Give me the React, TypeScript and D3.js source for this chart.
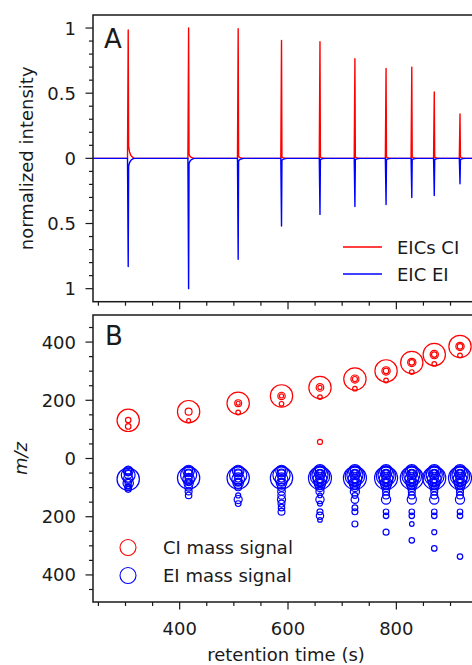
import React from "react";
import * as d3 from "d3";

// ---------- data ----------
const peakTimes = [305, 416.5, 508, 588, 659, 723.5, 781, 828.5, 870, 917.5];
const ciHeights = [0.985, 1.0, 0.995, 0.905, 0.895, 0.765, 0.69, 0.7, 0.51, 0.34];
const eiHeights = [0.83, 1.0, 0.775, 0.52, 0.43, 0.37, 0.355, 0.3, 0.285, 0.195];
const ciTails = [0.09, 0.03, 0.015, 0.01, 0.01, 0.01, 0.01, 0.01, 0.01, 0.01];
const eiTails = [0.06, 0.04, 0.02, 0.015, 0.01, 0.01, 0.01, 0.01, 0.01, 0.01];

// [m/z, relative intensity]
const ciSignals: [number, number][][] = [
  [[131, 0.97], [132, 0.24], [110, 0.24]],
  [[161, 0.97], [161, 0.3], [130, 0.17]],
  [[190, 0.97], [190, 0.3], [190, 0.17], [158, 0.2]],
  [[215, 0.97], [215, 0.32], [215, 0.18], [188, 0.2]],
  [[244, 0.97], [244, 0.33], [244, 0.18], [211, 0.2], [57, 0.22]],
  [[273, 0.97], [273, 0.35], [273, 0.22], [240, 0.2]],
  [[301, 0.97], [301, 0.36], [301, 0.24], [268, 0.2]],
  [[330, 0.97], [330, 0.36], [330, 0.24], [297, 0.2]],
  [[357, 0.97], [357, 0.36], [357, 0.24], [325, 0.2]],
  [[385, 0.97], [385, 0.36], [385, 0.24], [354, 0.2]],
];

const eiSignals: [number, number][][] = [
  [[71, 0.97], [57, 0.6], [43, 0.42], [41, 0.3], [48, 0.25], [55, 0.35], [69, 0.4], [85, 0.45], [83, 0.28], [99, 0.3], [97, 0.2], [106, 0.26]],
  [[67, 0.97], [57, 0.7], [43, 0.5], [41, 0.35], [48, 0.3], [55, 0.4], [71, 0.5], [85, 0.4], [69, 0.3], [83, 0.25], [99, 0.33], [113, 0.3], [127, 0.28]],
  [[67, 0.97], [57, 0.75], [43, 0.5], [41, 0.35], [48, 0.3], [55, 0.4], [71, 0.55], [85, 0.45], [69, 0.3], [83, 0.3], [99, 0.3], [127, 0.22], [141, 0.35], [155, 0.25]],
  [[67, 0.97], [57, 0.75], [43, 0.5], [41, 0.35], [48, 0.3], [55, 0.4], [71, 0.55], [85, 0.45], [69, 0.3], [83, 0.3], [99, 0.35], [113, 0.33], [127, 0.32], [141, 0.35], [155, 0.3], [169, 0.28], [183, 0.3]],
  [[67, 1.0], [60, 0.85], [57, 0.7], [43, 0.55], [41, 0.4], [50, 0.3], [46, 0.2], [55, 0.45], [71, 0.6], [78, 0.2], [85, 0.5], [69, 0.35], [83, 0.35], [99, 0.38], [97, 0.25], [113, 0.35], [127, 0.2], [141, 0.36], [155, 0.22], [183, 0.26], [197, 0.32], [211, 0.2]],
  [[67, 1.0], [60, 0.85], [57, 0.7], [43, 0.55], [41, 0.4], [50, 0.3], [46, 0.2], [55, 0.45], [71, 0.6], [78, 0.2], [85, 0.5], [69, 0.35], [83, 0.35], [99, 0.38], [97, 0.25], [113, 0.4], [127, 0.25], [141, 0.33], [169, 0.25], [183, 0.26], [225, 0.26]],
  [[67, 1.0], [60, 0.85], [57, 0.7], [43, 0.55], [41, 0.4], [50, 0.3], [46, 0.2], [55, 0.45], [71, 0.6], [78, 0.2], [85, 0.5], [69, 0.35], [83, 0.35], [99, 0.38], [97, 0.25], [113, 0.3], [127, 0.3], [141, 0.4], [183, 0.24], [197, 0.24], [253, 0.26]],
  [[67, 1.0], [60, 0.85], [57, 0.7], [43, 0.55], [41, 0.4], [50, 0.3], [46, 0.2], [55, 0.45], [71, 0.6], [78, 0.2], [85, 0.5], [69, 0.35], [83, 0.35], [99, 0.38], [97, 0.25], [113, 0.3], [127, 0.3], [141, 0.4], [183, 0.24], [197, 0.24], [225, 0.2], [281, 0.24]],
  [[67, 1.0], [60, 0.85], [57, 0.7], [43, 0.55], [41, 0.4], [50, 0.3], [46, 0.2], [55, 0.45], [71, 0.6], [78, 0.2], [85, 0.5], [69, 0.35], [83, 0.35], [99, 0.38], [97, 0.25], [113, 0.3], [127, 0.3], [141, 0.4], [183, 0.24], [197, 0.24], [253, 0.22], [309, 0.24]],
  [[67, 1.0], [60, 0.85], [57, 0.7], [43, 0.55], [41, 0.4], [50, 0.3], [46, 0.2], [55, 0.45], [71, 0.6], [78, 0.2], [85, 0.5], [69, 0.35], [83, 0.35], [99, 0.38], [97, 0.25], [113, 0.3], [127, 0.3], [141, 0.4], [183, 0.24], [197, 0.24], [337, 0.24]],
];

const xMajorTicks = [400, 600, 800];
const yTicksA = [-1, -0.5, 0, 0.5, 1];
const yTicksB = [-400, -200, 0, 200, 400];

// ---------- layout ----------
const W = 472;
const H = 665;
const LEFT = 93;
const A_TOP = 15;
const A_BOT = 301.7;
const B_TOP = 315;
const B_BOT = 602;
const FONT = "DejaVu Sans, Verdana, sans-serif";
const RED = "#ff0000";
const BLUE = "#0000ff";
const INK = "#1a1a1a";

const x = d3.scaleLinear().domain([240, 1000]).range([LEFT, LEFT + 760 * 0.5417]);
const yA = d3.scaleLinear().domain([-1.1, 1.1]).range([A_BOT, A_TOP]);
const yB = d3.scaleLinear().domain([-493, 493]).range([B_BOT, B_TOP]);
const rS = d3.scaleLinear().domain([0, 1]).range([0, 11.5]);

// peak shape template (time offset, fraction) — shape only
function tracePoints(heights: number[], tails: number[], sign: number): [number, number][] {
  const pts: [number, number][] = [[240, 0]];
  peakTimes.forEach((t, i) => {
    const h = heights[i] * sign;
    const tl = tails[i] * sign;
    pts.push([t - 1.3, 0], [t, h], [t + 0.8, tl], [t + 2.5, tl * 0.55], [t + 5, tl * 0.25], [t + 10, 0]);
  });
  pts.push([1000, 0]);
  return pts;
}

const line = d3
  .line<[number, number]>()
  .x((d) => x(d[0]))
  .y((d) => yA(d[1]));

const xMinor = d3.range(250, 1000, 50).filter((v) => !xMajorTicks.includes(v));
const yAMinor = d3.range(-10, 11).map((v) => v / 10).filter((v) => !yTicksA.some((m) => Math.abs(m - v) < 1e-9));
const yBMinor = d3.range(-450, 451, 50).filter((v) => !yTicksB.includes(v));

const fmtA = (v: number) => String(Math.abs(v));
const fmtB = (v: number) => String(Math.abs(v));

function XTicks({ y0 }: { y0: number }) {
  return (
    <g stroke={INK} strokeWidth={1.2}>
      {xMajorTicks.map((v) => (
        <line key={"M" + v} x1={x(v)} x2={x(v)} y1={y0} y2={y0 + 7.5} />
      ))}
      {xMinor.map((v) => (
        <line key={"m" + v} x1={x(v)} x2={x(v)} y1={y0} y2={y0 + 4} />
      ))}
    </g>
  );
}

export default function App() {
  const ciPath = line(tracePoints(ciHeights, ciTails, 1)) || "";
  const eiPath = line(tracePoints(eiHeights, eiTails, -1)) || "";

  return (
    <svg
      width={W}
      height={H}
      viewBox={`0 0 ${W} ${H}`}
      style={{ position: "absolute", left: 0, top: 0, background: "#fff" }}
      fontFamily={FONT}
    >
      <rect x={0} y={0} width={W} height={H} fill="#fff" />
      <defs>
        <clipPath id="clipA">
          <rect x={LEFT} y={A_TOP} width={W} height={A_BOT - A_TOP} />
        </clipPath>
        <clipPath id="clipB">
          <rect x={LEFT} y={B_TOP} width={W} height={B_BOT - B_TOP} />
        </clipPath>
      </defs>

      {/* ---------- Panel A ---------- */}
      <g clipPath="url(#clipA)">
        <path d={ciPath} fill="none" stroke={RED} strokeWidth={1.4} strokeLinejoin="round" />
        <path d={eiPath} fill="none" stroke={BLUE} strokeWidth={1.4} strokeLinejoin="round" />
      </g>
      <rect x={LEFT} y={A_TOP} width={W} height={A_BOT - A_TOP} fill="none" stroke={INK} strokeWidth={1.5} />
      <g stroke={INK} strokeWidth={1.2}>
        {yTicksA.map((v) => (
          <line key={"M" + v} x1={LEFT - 7.5} x2={LEFT} y1={yA(v)} y2={yA(v)} />
        ))}
        {yAMinor.map((v) => (
          <line key={"m" + v} x1={LEFT - 4} x2={LEFT} y1={yA(v)} y2={yA(v)} />
        ))}
      </g>
      <g fontSize={18} fill={INK} textAnchor="end">
        {yTicksA.map((v) => (
          <text key={v} x={76} y={yA(v)} dy="0.36em">
            {fmtA(v)}
          </text>
        ))}
      </g>
      <XTicks y0={A_BOT} />
      <text x={104} y={48} fontSize={26} fill={INK}>
        A
      </text>
      <text transform={`translate(33,${(A_TOP + A_BOT) / 2}) rotate(-90)`} textAnchor="middle" fontSize={18} fill={INK}>
        normalized intensity
      </text>
      {/* legend A */}
      <line x1={343} x2={382} y1={247} y2={247} stroke={RED} strokeWidth={1.5} />
      <text x={397} y={253.5} fontSize={18} fill={INK}>
        EICs CI
      </text>
      <line x1={343} x2={382} y1={274} y2={274} stroke={BLUE} strokeWidth={1.5} />
      <text x={397} y={280.5} fontSize={18} fill={INK}>
        EIC EI
      </text>

      {/* ---------- Panel B ---------- */}
      <g clipPath="url(#clipB)" fill="none" strokeWidth={1.2}>
        {ciSignals.map((grp, i) =>
          grp.map(([mz, v], j) => (
            <circle key={`c${i}-${j}`} cx={x(peakTimes[i])} cy={yB(mz)} r={rS(v)} stroke={RED} />
          ))
        )}
        {eiSignals.map((grp, i) =>
          grp.map(([mz, v], j) => (
            <circle key={`e${i}-${j}`} cx={x(peakTimes[i])} cy={yB(-mz)} r={rS(v)} stroke={BLUE} />
          ))
        )}
      </g>
      <rect x={LEFT} y={B_TOP} width={W} height={B_BOT - B_TOP} fill="none" stroke={INK} strokeWidth={1.5} />
      <g stroke={INK} strokeWidth={1.2}>
        {yTicksB.map((v) => (
          <line key={"M" + v} x1={LEFT - 7.5} x2={LEFT} y1={yB(v)} y2={yB(v)} />
        ))}
        {yBMinor.map((v) => (
          <line key={"m" + v} x1={LEFT - 4} x2={LEFT} y1={yB(v)} y2={yB(v)} />
        ))}
      </g>
      <g fontSize={18} fill={INK} textAnchor="end">
        {yTicksB.map((v) => (
          <text key={v} x={76} y={yB(v)} dy="0.36em">
            {fmtB(v)}
          </text>
        ))}
      </g>
      <XTicks y0={B_BOT} />
      <g fontSize={18} fill={INK} textAnchor="middle">
        {xMajorTicks.map((v) => (
          <text key={v} x={x(v)} y={635}>
            {v}
          </text>
        ))}
      </g>
      <text x={286} y={661} textAnchor="middle" fontSize={18} fill={INK}>
        retention time (s)
      </text>
      <text x={105} y={345} fontSize={26} fill={INK}>
        B
      </text>
      <text
        transform={`translate(27,${(B_TOP + B_BOT) / 2}) rotate(-90)`}
        textAnchor="middle"
        fontSize={18}
        fontStyle="italic"
        fill={INK}
      >
        m/z
      </text>
      {/* legend B */}
      <circle cx={128} cy={547.5} r={8} fill="none" stroke={RED} strokeWidth={1.1} />
      <text x={163} y={553.5} fontSize={18} fill={INK}>
        CI mass signal
      </text>
      <circle cx={128} cy={575.5} r={8} fill="none" stroke={BLUE} strokeWidth={1.1} />
      <text x={163} y={581.5} fontSize={18} fill={INK}>
        EI mass signal
      </text>
    </svg>
  );
}
